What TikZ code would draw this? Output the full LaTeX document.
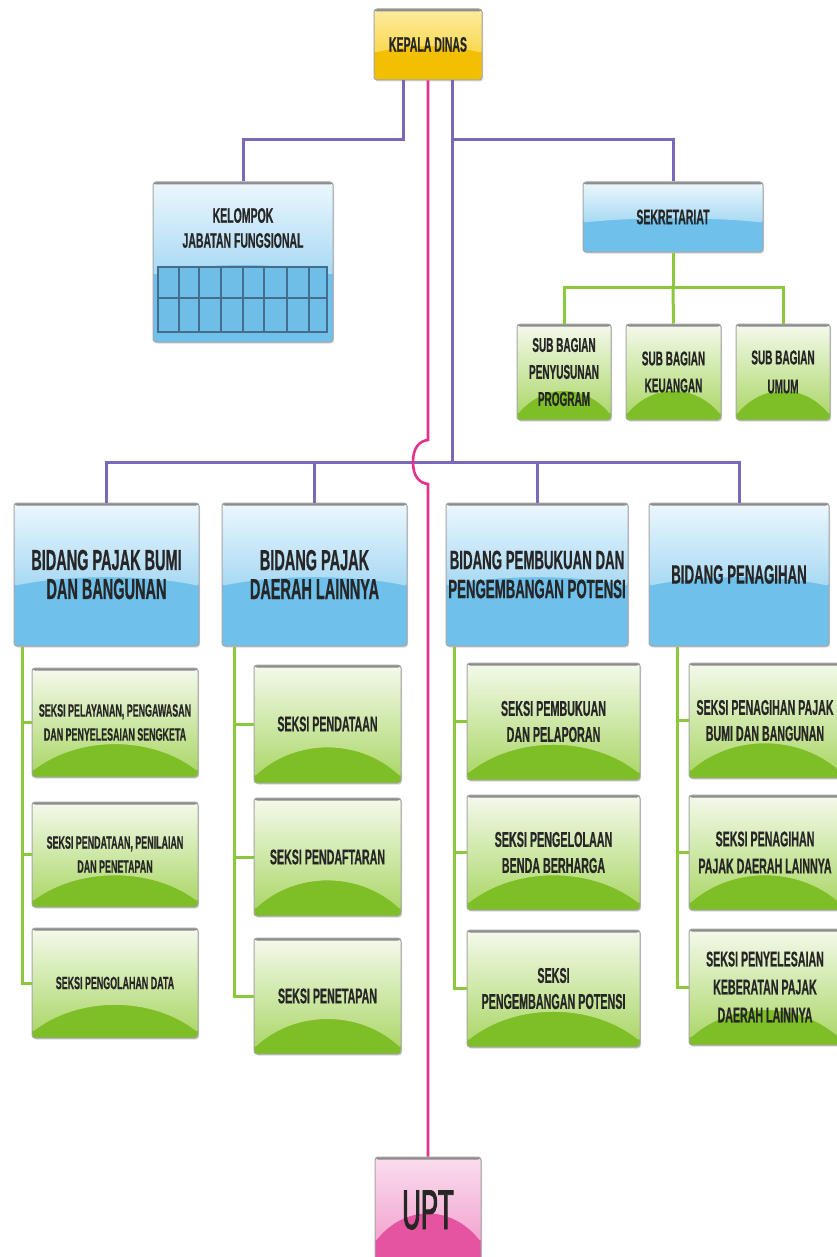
\documentclass[tikz,border=0pt]{standalone}
\usepackage{fontspec}
\newfontfamily\nar{Liberation Sans}[FakeStretch=0.5, BoldFeatures={FakeBold=0.6}]
\newfontfamily\narm{Liberation Sans}[FakeStretch=0.46, FakeBold=1.6]
\usetikzlibrary{calc,shadows}
\definecolor{blueL}{RGB}{236,247,253}
\definecolor{blueM}{RGB}{118,195,237}
\definecolor{blueB}{RGB}{112,192,236}
\definecolor{greenL}{RGB}{244,250,236}
\definecolor{greenM}{RGB}{168,213,98}
\definecolor{greenB}{RGB}{126,190,38}
\definecolor{goldL}{RGB}{253,236,160}
\definecolor{goldM}{RGB}{246,204,30}
\definecolor{goldB}{RGB}{242,192,0}
\definecolor{pinkL}{RGB}{250,222,238}
\definecolor{pinkM}{RGB}{240,150,200}
\definecolor{pinkB}{RGB}{228,84,160}
\definecolor{purpC}{RGB}{122,104,184}
\definecolor{pinkC}{RGB}{228,50,140}
\definecolor{grnC}{RGB}{140,200,60}
\definecolor{gridC}{RGB}{70,110,140}
\definecolor{gridF}{RGB}{110,190,232}
\newcommand\fs[2]{\fontsize{#1}{#2}\selectfont}
\newcommand\bx[7]{\node[#2, minimum width={(#5)-(#3)}, minimum height={(#6)-(#4)}] (#1) at ({((#3)+(#5))/2},{((#4)+(#6))/2}) {#7};}
\tikzset{
  box/.style={draw=black!35, line width=1pt, rounded corners=3pt, inner sep=0pt, align=center,
    text=black!85, drop shadow={shadow xshift=1pt, shadow yshift=-1.5pt, opacity=0.3}},
  gloss/.style n args={5}{fill=#3, path picture={
    \shade[top color=#1, bottom color=#2] let \p1=(path picture bounding box.north west), \p2=(path picture bounding box.south east) in
      (\x1,\y1) -- (\x2,\y1) -- (\x2,{\y1+#4*(\y2-\y1)})
      .. controls ({\x1+0.72*(\x2-\x1)},{\y1+#5*(\y2-\y1)}) and ({\x1+0.28*(\x2-\x1)},{\y1+#5*(\y2-\y1)}) ..
      (\x1,{\y1+#4*(\y2-\y1)}) -- cycle;
    \fill[black!45] let \p1=(path picture bounding box.north west), \p2=(path picture bounding box.south east) in
      (\x1,\y1) rectangle (\x2,{\y1-2.5pt});
  }},
  bluebox/.style={box, gloss={blueL}{blueM}{blueB}{0.58}{0.5}},
  greenbox/.style={box, gloss={greenL}{greenM}{greenB}{0.95}{0.62}},
  goldbox/.style={box, gloss={goldL}{goldM}{goldB}{0.62}{0.5}},
  pinkbox/.style={box, gloss={pinkL}{pinkM}{pinkB}{0.8}{0.45}},
  purp/.style={draw=purpC, line width=3pt},
  pinkln/.style={draw=pinkC, line width=2.6pt},
  grnln/.style={draw=grnC, line width=3pt},
  lbl/.style={font=\nar\bfseries, text=black!85, align=center, inner sep=0pt},
}
\begin{document}
\begin{tikzpicture}[x=1pt,y=-1pt]
\fill[white] (0,0) rectangle (837,1257);
\useasboundingbox (0,0) rectangle (837,1257);
% top
\bx{kd}{goldbox, font=\nar\bfseries\fs{21}{23}}{374}{9}{482}{80}{KEPALA DINAS}
\bx{kjf}{bluebox}{153}{182}{333}{342}{}
\node[lbl, font=\nar\bfseries\fs{21}{25}] (kjft) at (243,228) {KELOMPOK\\JABATAN FUNGSIONAL};
\node[draw=gridC, fill=gridF, line width=1.2pt, minimum width=169pt, minimum height=65pt, inner sep=0pt] (grid) at (242.5,299.5) {};
\foreach \gx in {179,199,221,243,264,287,309} \draw[gridC, line width=1.2pt] (\gx,267) -- (\gx,332);
\draw[gridC, line width=2.6pt] (158,298) -- (327,298);
\bx{sek}{bluebox, font=\nar\bfseries\fs{21}{23}}{583}{182}{763}{252}{SEKRETARIAT}
\bx{sb1}{greenbox, font=\nar\bfseries\fs{20}{27}}{517}{324}{611}{420}{SUB BAGIAN\\PENYUSUNAN\\PROGRAM}
\bx{sb2}{greenbox, font=\nar\bfseries\fs{20}{27}}{626}{324}{721}{420}{SUB BAGIAN\\KEUANGAN}
\bx{sb3}{greenbox, font=\nar\bfseries\fs{20}{29}}{736}{324}{830}{420}{SUB BAGIAN\\UMUM}
% bidang
\bx{b1}{bluebox, font=\nar\bfseries\fs{29}{29}}{14}{503}{199}{646}{BIDANG PAJAK BUMI\\DAN BANGUNAN}
\bx{b2}{bluebox, font=\nar\bfseries\fs{29}{29}}{222}{503}{407}{646}{BIDANG PAJAK\\DAERAH LAINNYA}
\bx{b3}{bluebox, font=\nar\bfseries\fs{26.5}{29}}{446}{503}{628}{646}{BIDANG PEMBUKUAN DAN\\PENGEMBANGAN POTENSI}
\bx{b4}{bluebox, font=\nar\bfseries\fs{26.5}{29}}{649}{503}{829}{646}{BIDANG PENAGIHAN}
% seksi col 1
\bx{s11}{greenbox, font=\nar\bfseries\fs{17.8}{24}}{32}{668}{198}{777}{SEKSI PELAYANAN, PENGAWASAN\\DAN PENYELESAIAN SENGKETA}
\bx{s12}{greenbox, font=\nar\bfseries\fs{17.8}{24}}{32}{802}{198}{907}{SEKSI PENDATAAN, PENILAIAN\\DAN PENETAPAN}
\bx{s13}{greenbox, font=\nar\bfseries\fs{17.8}{24}}{32}{928}{198}{1038}{SEKSI PENGOLAHAN DATA}
% col 2
\bx{s21}{greenbox, font=\nar\bfseries\fs{21.3}{26}}{254}{665}{401}{783}{SEKSI PENDATAAN}
\bx{s22}{greenbox, font=\nar\bfseries\fs{21.3}{26}}{254}{798}{401}{916}{SEKSI PENDAFTARAN}
\bx{s23}{greenbox, font=\nar\bfseries\fs{21.3}{26}}{254}{938}{401}{1054}{SEKSI PENETAPAN}
% col 3
\bx{s31}{greenbox, font=\nar\bfseries\fs{21.5}{26}}{467}{663}{640}{780}{SEKSI PEMBUKUAN\\DAN PELAPORAN}
\bx{s32}{greenbox, font=\nar\bfseries\fs{21.5}{26}}{467}{795}{640}{910}{SEKSI PENGELOLAAN\\BENDA BERHARGA}
\bx{s33}{greenbox, font=\nar\bfseries\fs{21.5}{26}}{467}{930}{640}{1047}{SEKSI\\PENGEMBANGAN POTENSI}
% col 4
\bx{s41}{greenbox, font=\nar\bfseries\fs{21.3}{26}}{689}{663}{841}{778}{SEKSI PENAGIHAN PAJAK\\BUMI DAN BANGUNAN}
\bx{s42}{greenbox, font=\nar\bfseries\fs{21.3}{27}}{689}{795}{841}{910}{SEKSI PENAGIHAN\\PAJAK DAERAH LAINNYA}
\bx{s43}{greenbox, font=\nar\bfseries\fs{21.3}{28}}{689}{929}{841}{1045}{SEKSI PENYELESAIAN\\KEBERATAN PAJAK\\DAERAH LAINNYA}
% UPT
\bx{upt}{pinkbox, font=\narm\fs{56}{56}}{375}{1157}{481}{1263}{UPT}
% connectors
\coordinate (lvl1) at (0,140);
\coordinate (bus) at (0,462);
\coordinate (kdL) at ([xshift=-25pt]kd.south);
\coordinate (kdR) at ([xshift=24pt]kd.south);
\draw[purp] (kdL) -- (kdL |- lvl1) -| (kjf.north);
\draw[purp] (kdR) -- (kdR |- bus);
\draw[purp] (kdR |- lvl1) -| (sek.north);
\draw[purp] (b1.north) -- (b1.north |- bus) -- (b4.north |- bus) -- (b4.north);
\draw[purp] (b2.north) -- (b2.north |- bus);
\draw[purp] (b3.north) -- (b3.north |- bus);
\coordinate (hop1) at (428,440);
\coordinate (hopL) at (413,462);
\coordinate (hop2) at (428,484);
\draw[pinkln] (kd.south) -- (hop1)
  .. controls +(-9,1) and +(0,-14) .. (hopL)
  .. controls +(0,14) and +(-9,-1) .. (hop2)
  -- (upt.north);
% sekretariat subtree
\coordinate (sbj) at ($(sek.south)+(0,35)$);
\draw[grnln] (sek.south) -- (sbj);
\draw[grnln] (sb1.north) |- (sbj) -| (sb3.north);
\draw[grnln] (sbj) -- (sb2.north);
% bidang subtrees
\coordinate (g1) at ([xshift=9pt]b1.south west);
\coordinate (g2) at ([xshift=13pt]b2.south west);
\coordinate (g3) at ([xshift=9pt]b3.south west);
\coordinate (g4) at ([xshift=29pt]b4.south west);
\draw[grnln] (g1) |- (s13.west); \draw[grnln] (g1 |- s11.west) -- (s11.west); \draw[grnln] (g1 |- s12.west) -- (s12.west);
\draw[grnln] (g2) |- (s23.west); \draw[grnln] (g2 |- s21.west) -- (s21.west); \draw[grnln] (g2 |- s22.west) -- (s22.west);
\draw[grnln] (g3) |- (s33.west); \draw[grnln] (g3 |- s31.west) -- (s31.west); \draw[grnln] (g3 |- s32.west) -- (s32.west);
\draw[grnln] (g4) |- (s43.west); \draw[grnln] (g4 |- s41.west) -- (s41.west); \draw[grnln] (g4 |- s42.west) -- (s42.west);
\end{tikzpicture}
\end{document}
